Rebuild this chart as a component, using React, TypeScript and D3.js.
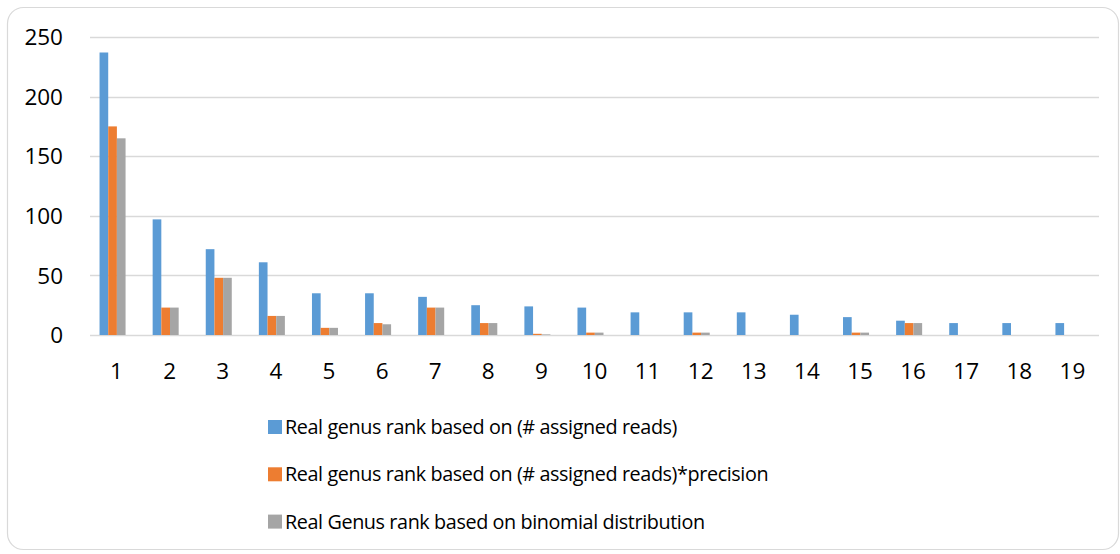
import * as d3 from 'd3';

const categories = ['1', '2', '3', '4', '5', '6', '7', '8', '9', '10', '11', '12', '13', '14', '15', '16', '17', '18', '19'];
const assignedReads = [237, 97, 72, 61, 35, 35, 32, 25, 24, 23, 19, 19, 19, 17, 15, 12, 10, 10, 10];
const readsPrecision = [175, 23, 48, 16, 6, 10, 23, 10, 1, 2, 0, 2, 0, 0, 2, 10, 0, 0, 0];
const binomial = [165, 23, 48, 16, 6, 9, 23, 10, 0.5, 2, 0, 2, 0, 0, 2, 10, 0, 0, 0];
const yTicks = [0, 50, 100, 150, 200, 250];

const seriesNames = [
  'Real genus rank based on (# assigned reads)',
  'Real genus rank based on (# assigned reads)*precision',
  'Real Genus rank based on binomial distribution',
];
const seriesColors = ['#5B9BD5', '#ED7D31', '#A5A5A5'];
const seriesValues = [assignedReads, readsPrecision, binomial];

const W = 1120;
const H = 554;
const FONT = '"Open Sans", "Noto Sans", sans-serif';

const App = () => {
  const x = d3.scaleBand<string>().domain(categories).range([90, 1099]);
  const y = d3.scaleLinear().domain([0, 250]).range([335, 37]);

  // three bars per group, ~26px wide, sitting a bit left of the label
  const groupWidth = x.bandwidth() * 0.49;
  const inner = d3.scaleBand<number>().domain([0, 1, 2]).range([0, groupWidth]);
  const groupShift = -4;

  return (
    <svg width={W} height={H} style={{ position: 'absolute', left: 0, top: 0 }}>
      <rect x={0} y={0} width={W} height={H} fill="#fff" />
      <rect x={7.5} y={7.5} width={1111} height={542} rx={16} ry={16}
        fill="#fff" stroke="#D9D9D9" strokeWidth={1.2} />

      {/* gridlines */}
      {yTicks.map(t => (
        <line key={t} x1={90} x2={1099} y1={Math.round(y(t)) + 0.5} y2={Math.round(y(t)) + 0.5}
          stroke="#D9D9D9" strokeWidth={1.3} />
      ))}

      {/* y labels */}
      {yTicks.map(t => (
        <text key={t} x={63} y={y(t)} dy="0.36em" textAnchor="end"
          fontFamily={FONT} fontSize={22.5} fill="#000">{t}</text>
      ))}

      {/* bars */}
      {categories.map((c, i) => {
        const cx = (x(c) ?? 0) + x.bandwidth() / 2 + groupShift;
        const x0 = cx - groupWidth / 2;
        return (
          <g key={c}>
            {seriesValues.map((vals, s) => (
              vals[i] > 0 ? (
                <rect key={s} x={x0 + (inner(s) ?? 0)} y={y(vals[i])}
                  width={inner.bandwidth()} height={y(0) - y(vals[i])}
                  fill={seriesColors[s]} />
              ) : null
            ))}
          </g>
        );
      })}

      {/* x labels */}
      {categories.map(c => (
        <text key={c} x={(x(c) ?? 0) + x.bandwidth() / 2} y={370.5} dy="0.36em"
          textAnchor="middle" fontFamily={FONT} fontSize={22.5} fill="#000">{c}</text>
      ))}

      {/* legend */}
      {seriesNames.map((name, i) => {
        const cy = 427 + i * 47.3;
        return (
          <g key={name}>
            <rect x={268} y={cy - 7} width={14} height={14} fill={seriesColors[i]} />
            <text x={285} y={cy} dy="0.36em" fontFamily={FONT} fontSize={19.8}
              letterSpacing={-0.4} fill="#000">{name}</text>
          </g>
        );
      })}
    </svg>
  );
};

export default App;
